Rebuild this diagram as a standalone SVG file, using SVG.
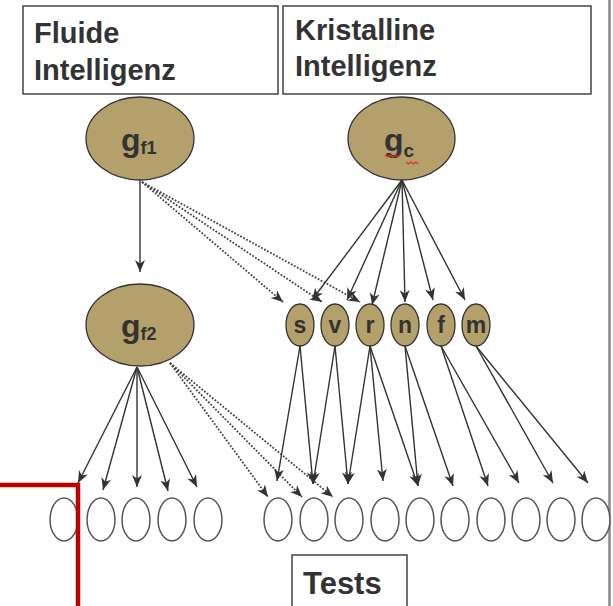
<svg xmlns="http://www.w3.org/2000/svg" width="613" height="606" viewBox="0 0 613 606">
<style>
.box{fill:#fff;stroke:#444;stroke-width:1.5}
.lbl{font-family:"Liberation Sans",Arial,sans-serif;font-weight:bold;fill:#333}
.big{fill:#b3a06a;stroke:#333;stroke-width:1.3}
.small{fill:#b3a06a;stroke:#333;stroke-width:1.3}
.test{fill:#fff;stroke:#555;stroke-width:1.5}
.sol{stroke:#333;stroke-width:1.4;fill:none;marker-end:url(#ah)}
.dot{stroke:#444;stroke-width:1.8;stroke-dasharray:1.8,1.6;fill:none;marker-end:url(#ah)}
</style>
<defs>
<marker id="ah" markerUnits="userSpaceOnUse" markerWidth="13" markerHeight="11" refX="12" refY="5" orient="auto">
<path d="M0,0 L12,5 L0,10 L3.5,5 z" fill="#333"/>
</marker>
</defs>
<rect width="613" height="606" fill="#fff"/>
<line x1="609.5" y1="0" x2="609.5" y2="606" stroke="#8a8a8a" stroke-width="2.5"/>

<g id="box-fluide">
<rect class="box" x="23" y="6" width="255" height="88"/>
<text class="lbl" x="34" y="43" font-size="29">Fluide</text>
<text class="lbl" x="34" y="80" font-size="29">Intelligenz</text>
</g>
<g id="box-kristallin">
<rect class="box" x="283" y="6" width="308" height="88"/>
<text class="lbl" x="295" y="40" font-size="29">Kristalline</text>
<text class="lbl" x="295" y="76" font-size="29">Intelligenz</text>
</g>

<g id="connectors">
<line class="sol" x1="140" y1="180" x2="140" y2="272"/>
<line class="dot" x1="142" y1="182" x2="283" y2="302"/>
<line class="dot" x1="142" y1="182" x2="322" y2="302"/>
<line class="dot" x1="142" y1="182" x2="360" y2="302"/>
<line class="sol" x1="402" y1="180" x2="312" y2="300"/>
<line class="sol" x1="402" y1="180" x2="347" y2="300"/>
<line class="sol" x1="402" y1="180" x2="372" y2="305"/>
<line class="sol" x1="402" y1="180" x2="405" y2="302"/>
<line class="sol" x1="402" y1="180" x2="433" y2="300"/>
<line class="sol" x1="402" y1="180" x2="465" y2="300"/>
<line class="sol" x1="137" y1="367" x2="78" y2="483"/>
<line class="sol" x1="137" y1="367" x2="103" y2="490"/>
<line class="sol" x1="137" y1="367" x2="137" y2="487"/>
<line class="sol" x1="137" y1="367" x2="168" y2="491"/>
<line class="sol" x1="137" y1="367" x2="197" y2="487"/>
<line class="dot" x1="170" y1="363" x2="268" y2="497"/>
<line class="dot" x1="170" y1="363" x2="302" y2="497"/>
<line class="dot" x1="170" y1="363" x2="333" y2="497"/>
<line class="sol" x1="300" y1="346" x2="277" y2="481"/>
<line class="sol" x1="300" y1="346" x2="313" y2="484"/>
<line class="sol" x1="335" y1="346" x2="313" y2="484"/>
<line class="sol" x1="335" y1="346" x2="348" y2="484"/>
<line class="sol" x1="370" y1="346" x2="348" y2="484"/>
<line class="sol" x1="370" y1="346" x2="383" y2="481"/>
<line class="sol" x1="370" y1="346" x2="418" y2="486"/>
<line class="sol" x1="405" y1="346" x2="418" y2="486"/>
<line class="sol" x1="405" y1="346" x2="453" y2="486"/>
<line class="sol" x1="441" y1="346" x2="488" y2="486"/>
<line class="sol" x1="441" y1="346" x2="519" y2="483"/>
<line class="sol" x1="476" y1="346" x2="553" y2="483"/>
<line class="sol" x1="476" y1="346" x2="588" y2="483"/>
</g>

<g id="gf1">
<ellipse class="big" cx="140" cy="138.5" rx="54" ry="41.5"/>
<text class="lbl" x="121" y="151" font-size="32">g<tspan font-size="18" dy="3">f1</tspan></text>
</g>
<g id="gc">
<ellipse class="big" cx="401.5" cy="138.5" rx="53.5" ry="41.5"/>
<text class="lbl" x="384" y="151" font-size="32">g<tspan font-size="19" dy="6">c</tspan></text>
<path d="M385,155 l2.5,2 l2.5,-2 l2.5,2 l2.5,-2 l2.5,2 l2.5,-2 M406,162 l2.5,2 l2.5,-2 l2.5,2 l2.5,-2 l2.5,2" fill="none" stroke="#e03030" stroke-width="1.2"/>
</g>
<g id="gf2">
<ellipse class="big" cx="140" cy="325" rx="54" ry="41"/>
<text class="lbl" x="121" y="337" font-size="32">g<tspan font-size="18" dy="3">f2</tspan></text>
</g>

<g id="s"><ellipse class="small" cx="300" cy="325" rx="14" ry="21"/><text class="lbl" x="300" y="333" font-size="23" text-anchor="middle">s</text></g>
<g id="v"><ellipse class="small" cx="335" cy="325" rx="14" ry="21"/><text class="lbl" x="335" y="333" font-size="23" text-anchor="middle">v</text></g>
<g id="r"><ellipse class="small" cx="370" cy="325" rx="14" ry="21"/><text class="lbl" x="370" y="333" font-size="23" text-anchor="middle">r</text></g>
<g id="n"><ellipse class="small" cx="405" cy="325" rx="14" ry="21"/><text class="lbl" x="405" y="333" font-size="23" text-anchor="middle">n</text></g>
<g id="f"><ellipse class="small" cx="441" cy="325" rx="14" ry="21"/><text class="lbl" x="441" y="333" font-size="23" text-anchor="middle">f</text></g>
<g id="m"><ellipse class="small" cx="476" cy="325" rx="14" ry="21"/><text class="lbl" x="476" y="333" font-size="23" text-anchor="middle">m</text></g>

<g id="tests-fluid">
<ellipse class="test" cx="64" cy="519.5" rx="14" ry="21.5"/>
<ellipse class="test" cx="101" cy="519.5" rx="14" ry="21.5"/>
<ellipse class="test" cx="136" cy="519.5" rx="14" ry="21.5"/>
<ellipse class="test" cx="172" cy="519.5" rx="14" ry="21.5"/>
<ellipse class="test" cx="208" cy="519.5" rx="14" ry="21.5"/>
</g>
<g id="tests-cryst">
<ellipse class="test" cx="278" cy="519.5" rx="14" ry="21.5"/>
<ellipse class="test" cx="314" cy="519.5" rx="14" ry="21.5"/>
<ellipse class="test" cx="349" cy="519.5" rx="14" ry="21.5"/>
<ellipse class="test" cx="385" cy="519.5" rx="14" ry="21.5"/>
<ellipse class="test" cx="420" cy="519.5" rx="14" ry="21.5"/>
<ellipse class="test" cx="455" cy="519.5" rx="14" ry="21.5"/>
<ellipse class="test" cx="491" cy="519.5" rx="14" ry="21.5"/>
<ellipse class="test" cx="526" cy="519.5" rx="14" ry="21.5"/>
<ellipse class="test" cx="561" cy="519.5" rx="14" ry="21.5"/>
<ellipse class="test" cx="596" cy="519.5" rx="14" ry="21.5"/>
</g>

<g id="box-tests">
<rect class="box" x="292" y="555" width="115" height="60"/>
<text class="lbl" x="303" y="594" font-size="31">Tests</text>
</g>

<path d="M0,485 H78 V606" fill="none" stroke="#c00000" stroke-width="4.5"/>
</svg>
